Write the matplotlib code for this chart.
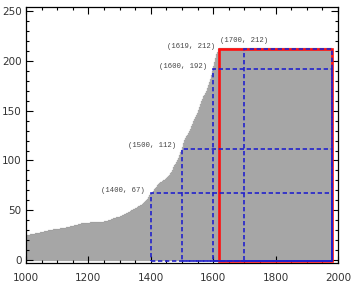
import numpy as np
import matplotlib
matplotlib.use('Agg')
import matplotlib.pyplot as plt
from matplotlib.patches import Rectangle

# left edge of each horizontal bar, ordered by rank
starts = [
    812, 845, 871, 890, 905, 918, 929, 938, 946, 953, 959, 964, 969, 973, 977,
    980, 983, 986, 988, 990, 992, 994, 996, 997, 999,
    1000, 1012, 1030, 1045, 1058, 1072, 1088, 1110, 1130, 1142, 1155, 1166, 1178,
    1205, 1250, 1262, 1272, 1280, 1290, 1300, 1308, 1315, 1320, 1326, 1332, 1338,
    1344, 1349, 1355, 1360, 1365, 1371, 1376, 1379, 1382, 1385, 1388, 1390, 1392,
    1394, 1396, 1398, 1400, 1403, 1406, 1409, 1412, 1414, 1417, 1419, 1421, 1424,
    1426, 1430, 1435, 1440, 1445, 1449, 1451, 1454, 1458, 1461, 1463, 1465, 1467,
    1468, 1470, 1471, 1472, 1474, 1476, 1478, 1480, 1482, 1484, 1485, 1486, 1488,
    1489, 1490, 1491, 1493, 1494, 1495, 1496, 1498, 1499, 1500, 1501, 1502, 1503,
    1504, 1505, 1506, 1507, 1508, 1509, 1510, 1512, 1514, 1516, 1518, 1520, 1522,
    1524, 1526, 1527, 1528, 1529, 1530, 1531, 1532, 1534, 1535, 1536, 1538, 1540,
    1541, 1543, 1544, 1546, 1547, 1549, 1550, 1552, 1553, 1554, 1555, 1556, 1557,
    1558, 1559, 1560, 1561, 1562, 1563, 1565, 1566, 1568, 1569, 1571, 1573, 1574,
    1576, 1577, 1579, 1580, 1581, 1582, 1584, 1585, 1586, 1587, 1588, 1590, 1591,
    1591, 1592, 1593, 1594, 1594, 1595, 1596, 1597, 1597, 1598, 1599, 1600, 1601,
    1601, 1602, 1603, 1604, 1604, 1605, 1606, 1606, 1607, 1608, 1608, 1609, 1610,
    1611, 1612, 1614, 1616, 1617, 1619,
]
bar_end = 1980

# marked corners
blue_pts = [(1400, 67), (1500, 112), (1600, 192), (1700, 212)]
red_pt = (1619, 212)

fig = plt.figure(figsize=(3.55, 2.82), dpi=100)
ax = fig.add_axes([0.073, 0.067, 0.879, 0.908])

ranks = np.arange(len(starts))
starts = np.array(starts)
ax.barh(ranks, bar_end - starts, left=starts, height=1.0,
        color='#8e8e8e', edgecolor='#c4c4c4', linewidth=0.25, zorder=1)

# red rectangle
rx, ry = red_pt
ax.add_patch(Rectangle((rx, -0.5), bar_end - rx, ry + 0.5, fill=False,
                       edgecolor='#ff1010', linewidth=1.9, zorder=3))

# blue dashed rectangles
for x0, y0 in blue_pts:
    ax.add_patch(Rectangle((x0, -0.5), bar_end - x0, y0 + 0.5, fill=False,
                           edgecolor='#2222cc', linewidth=1.2,
                           linestyle=(0, (2.6, 1.6)), zorder=4))

mono = dict(family='Liberation Mono', fontsize=5.2, color='#444444')
for x0, y0 in blue_pts[:3]:
    ax.annotate(f'({x0}, {y0})', (x0, y0), xytext=(-4, 2),
                textcoords='offset points', ha='right', va='center', **mono)
ax.annotate(f'({rx}, {ry})', (rx, ry), xytext=(-3, 2),
            textcoords='offset points', ha='right', va='center', **mono)
bx, by = blue_pts[3]
ax.annotate(f'({bx}, {by})', (bx, by), xytext=(0, 6),
            textcoords='offset points', ha='center', va='center', **mono)

ax.set_xlim(1000, 2000)
ax.set_ylim(-3, 254)
ax.set_xticks(np.arange(1000, 2001, 200))
ax.set_xticks(np.arange(1000, 2001, 50), minor=True)
ax.set_yticks(np.arange(0, 251, 50))
ax.set_yticks(np.arange(0, 251, 10), minor=True)
ax.tick_params(which='both', direction='in', top=True, right=True,
               labelsize=7.5, labelcolor='#333333', width=0.8)
ax.tick_params(which='major', length=5)
ax.tick_params(which='minor', length=2.5)
ax.tick_params(axis='x', pad=7)
ax.tick_params(axis='y', pad=3)
for s in ax.spines.values():
    s.set_linewidth(0.9)

fig.savefig('out.png', dpi=100)
